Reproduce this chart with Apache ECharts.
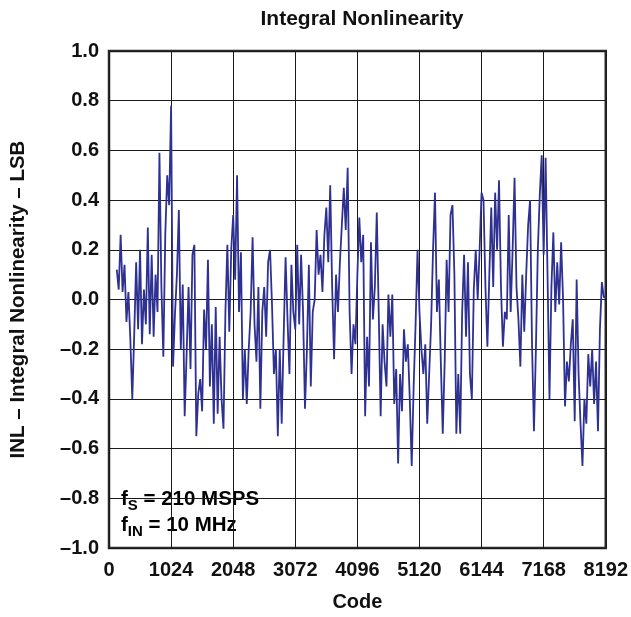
<!DOCTYPE html>
<html>
<head>
<meta charset="utf-8">
<script src="https://cdn.jsdelivr.net/npm/echarts@6/dist/echarts.min.js"></script>
<style>
  html, body { margin: 0; padding: 0; background: #fff; }
  #chart { width: 631px; height: 617px; }
</style>
</head>
<body>
<div id="chart"></div>
<script>
// ---- data ----
const CODE_START = 128;
const CODE_STEP = 32;
const inlValues = [
  0.12, 0.04, 0.26, 0.03, 0.14, -0.09, 0.03, -0.16, -0.40, -0.14,
  0.15, -0.12, 0.20, -0.18, 0.04, -0.10, 0.29, -0.14, 0.18, -0.15,
  0.10, -0.05, 0.59, 0.05, -0.23, 0.26, 0.50, 0.38, 0.78, -0.27,
  -0.06, 0.10, 0.36, -0.20, 0.06, -0.47, -0.22, 0.05, -0.28, 0.18,
  0.22, -0.55, -0.38, -0.32, -0.45, -0.04, -0.20, 0.16, -0.35, -0.10,
  -0.50, -0.03, -0.46, -0.15, -0.40, -0.52, -0.05, 0.22, -0.13, 0.20,
  0.34, 0.08, 0.50, -0.05, 0.19, -0.40, -0.20, -0.42, -0.20, -0.05,
  0.25, -0.10, -0.25, 0.05, -0.44, -0.05, 0.05, -0.15, 0.15, 0.20,
  -0.02, -0.30, -0.20, -0.55, -0.20, -0.50, -0.15, 0.17, -0.08, -0.30,
  0.14, -0.05, -0.12, 0.22, -0.10, 0.18, -0.05, -0.44, -0.20, 0.14,
  -0.35, -0.05, 0.00, 0.28, 0.10, 0.18, 0.03, 0.26, 0.37, 0.15,
  0.46, 0.05, -0.24, 0.10, -0.05, 0.15, 0.30, 0.45, 0.28, 0.53,
  -0.05, -0.30, -0.10, -0.18, 0.10, 0.33, 0.15, 0.26, -0.47, -0.15,
  -0.35, 0.23, -0.08, 0.05, 0.35, -0.05, -0.47, -0.10, -0.25, -0.35,
  0.02, -0.15, 0.02, -0.42, -0.28, -0.66, -0.30, -0.45, -0.12, -0.25,
  -0.18, -0.40, -0.67, -0.35, -0.10, 0.20, -0.05, -0.20, -0.30, -0.18,
  -0.50, -0.30, -0.10, 0.20, 0.43, -0.05, 0.08, -0.25, -0.54, -0.25,
  0.16, -0.05, 0.34, 0.38, 0.10, -0.54, -0.30, -0.54, -0.05, 0.18,
  -0.15, 0.15, -0.30, -0.40, 0.04, 0.20, 0.00, 0.20, 0.43, 0.40,
  0.05, -0.19, 0.10, 0.37, 0.05, 0.43, 0.20, 0.48, 0.05, -0.19,
  -0.05, -0.08, 0.34, -0.05, 0.20, 0.49, 0.05, -0.08, -0.27, 0.10,
  -0.13, 0.10, 0.30, 0.40, -0.18, -0.53, -0.20, 0.20, 0.42, 0.58,
  0.18, 0.57, 0.10, -0.40, 0.05, 0.27, -0.05, 0.15, -0.02, 0.23,
  0.00, -0.43, -0.25, -0.33, -0.18, -0.08, -0.49, 0.08, -0.30, -0.50,
  -0.67, -0.40, -0.50, -0.22, -0.35, -0.20, -0.42, -0.25, -0.53, -0.12,
  0.07, 0.01, 0.01
];
const xTicks = { min: 0, max: 8192, step: 1024 };
const yTicks = { min: -1.0, max: 1.0, step: 0.2 };
const titleText = 'Integral Nonlinearity';
const xName = 'Code';
const yName = 'INL \u2013 Integral Nonlinearity \u2013 LSB';

// ---- build ----
const seriesData = inlValues.map((v, i) => [CODE_START + i * CODE_STEP, v]);
const FONT = 'Liberation Sans, Arial, Helvetica, sans-serif';
const LINE_COLOR = '#2E3192';

const chart = echarts.init(document.getElementById('chart'), null, { renderer: 'canvas' });
chart.setOption({
  animation: false,
  backgroundColor: '#ffffff',
  title: {
    text: titleText,
    left: 357, textAlign: 'center',
    top: 4,
    textStyle: { fontFamily: FONT, fontWeight: 'bold', fontSize: 21, color: '#111' }
  },
  grid: {
    left: 107, top: 51, width: 500, height: 500,
    show: true, borderColor: '#2a2a2a', borderWidth: 2.5, backgroundColor: 'transparent'
  },
  xAxis: {
    type: 'value',
    min: xTicks.min, max: xTicks.max, interval: xTicks.step,
    name: xName, nameLocation: 'middle', nameGap: 44,
    nameTextStyle: { fontFamily: FONT, fontWeight: 'bold', fontSize: 20, color: '#111' },
    axisLine: { show: false },
    axisTick: { show: false },
    axisLabel: {
      fontFamily: FONT, fontWeight: 'bold', fontSize: 20, color: '#111', margin: 12,
      formatter: v => String(v)
    },
    splitLine: { show: true, lineStyle: { color: '#1a1a1a', width: 1 } }
  },
  yAxis: {
    type: 'value',
    min: yTicks.min, max: yTicks.max, interval: yTicks.step,
    name: yName, nameLocation: 'middle', nameGap: 80, nameRotate: 90,
    nameTextStyle: { fontFamily: FONT, fontWeight: 'bold', fontSize: 20.5, color: '#111' },
    axisLine: { show: false },
    axisTick: { show: false },
    axisLabel: {
      fontFamily: FONT, fontWeight: 'bold', fontSize: 20, color: '#111', margin: 10,
      formatter: v => v.toFixed(1).replace('-', '\u2013')
    },
    splitLine: { show: true, lineStyle: { color: '#1a1a1a', width: 1 } }
  },
  series: [{
    type: 'line',
    data: seriesData,
    showSymbol: false,
    lineStyle: { color: LINE_COLOR, width: 1.8 },
    z: 3
  }],
  graphic: [{
    type: 'group', left: 114, top: 487, z: 100,
    children: [
      { type: 'rect', shape: { x: 0, y: 0, width: 158, height: 51 }, style: { fill: '#ffffff' } },
      {
        type: 'text', x: 7, y: 2,
        style: {
          text: '{n|f}{s|S}{n| = 210 MSPS}\n{n|f}{s|IN}{n| = 10 MHz}',
          rich: {
            n: { fontFamily: FONT, fontWeight: 'bold', fontSize: 20.5, color: '#111', lineHeight: 26, verticalAlign: 'top' },
            s: { fontFamily: FONT, fontWeight: 'bold', fontSize: 15, color: '#111', lineHeight: 26, verticalAlign: 'top', padding: [9, 0, 0, 0] }
          }
        }
      }
    ]
  }]
});
</script>
</body>
</html>
